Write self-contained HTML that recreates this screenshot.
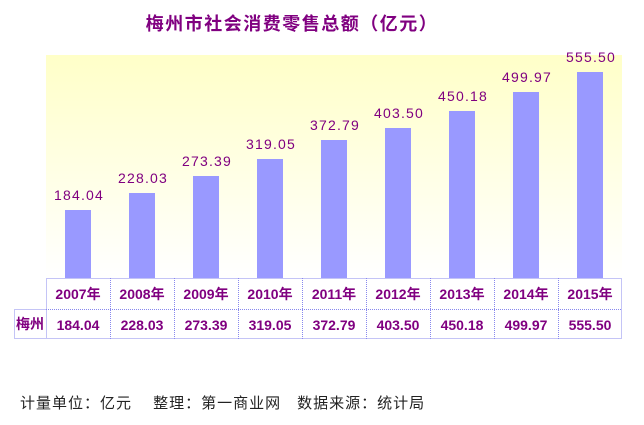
<!DOCTYPE html>
<html><head><meta charset="utf-8"><style>
body{margin:0;width:644px;height:425px;background:#fff;overflow:hidden;position:relative;font-family:"Liberation Sans","Noto Sans CJK SC",sans-serif}
</style></head><body>
<svg width="644" height="425" xmlns="http://www.w3.org/2000/svg" style="position:absolute;left:0;top:0">
<defs><linearGradient id="g" x1="0" y1="0" x2="0" y2="1"><stop offset="0" stop-color="#ffffc8"/><stop offset="1" stop-color="#ffffff"/></linearGradient></defs>
<text x="292" y="30" text-anchor="middle" font-size="18" font-weight="bold" letter-spacing="1.5" fill="#800080" font-family="Liberation Sans, Noto Sans CJK SC, sans-serif">梅州市社会消费零售总额（亿元）</text>
<rect x="46" y="55" width="576" height="223" fill="url(#g)"/>
<g fill="#9999ff">
<rect x="65" y="210" width="26" height="68"/>
<rect x="129" y="193" width="26" height="85"/>
<rect x="193" y="176" width="26" height="102"/>
<rect x="257" y="159" width="26" height="119"/>
<rect x="321" y="140" width="26" height="138"/>
<rect x="385" y="128" width="26" height="150"/>
<rect x="449" y="111" width="26" height="167"/>
<rect x="513" y="92" width="26" height="186"/>
<rect x="577" y="72" width="26" height="206"/>
</g>
<g fill="#800080" font-size="14" letter-spacing="1.2" text-anchor="middle" font-family="Liberation Sans, sans-serif">
<text x="79" y="200">184.04</text>
<text x="143" y="183">228.03</text>
<text x="207" y="166">273.39</text>
<text x="271" y="149">319.05</text>
<text x="335" y="130">372.79</text>
<text x="399" y="118">403.50</text>
<text x="463" y="101">450.18</text>
<text x="527" y="82">499.97</text>
<text x="591" y="62">555.50</text>
</g>
<g stroke="#8888ee" stroke-dasharray="1,1" fill="none" stroke-width="1">
<rect x="46.5" y="278.5" width="575" height="60"/>
<rect x="14.5" y="309.5" width="32" height="29"/>
<line x1="46" y1="309.5" x2="622" y2="309.5"/>
<line x1="110.5" y1="278" x2="110.5" y2="339"/><line x1="174.5" y1="278" x2="174.5" y2="339"/>
<line x1="238.5" y1="278" x2="238.5" y2="339"/><line x1="302.5" y1="278" x2="302.5" y2="339"/>
<line x1="366.5" y1="278" x2="366.5" y2="339"/><line x1="430.5" y1="278" x2="430.5" y2="339"/>
<line x1="494.5" y1="278" x2="494.5" y2="339"/><line x1="558.5" y1="278" x2="558.5" y2="339"/>
</g>
<g fill="#800080" font-size="14" font-weight="bold" text-anchor="middle">
<text x="78" y="299">2007年</text><text x="142" y="299">2008年</text><text x="206" y="299">2009年</text>
<text x="270" y="299">2010年</text><text x="334" y="299">2011年</text><text x="398" y="299">2012年</text>
<text x="462" y="299">2013年</text><text x="526" y="299">2014年</text><text x="590" y="299">2015年</text>
<text x="30" y="329">梅州</text>
<text x="78" y="330">184.04</text><text x="142" y="330">228.03</text><text x="206" y="330">273.39</text>
<text x="270" y="330">319.05</text><text x="334" y="330">372.79</text><text x="398" y="330">403.50</text>
<text x="462" y="330">450.18</text><text x="526" y="330">499.97</text><text x="590" y="330">555.50</text>
</g>
<text x="20" y="408" font-size="15" letter-spacing="1" fill="#222">计量单位：亿元　 整理：第一商业网　数据来源：统计局</text>
</svg>
</body></html>
